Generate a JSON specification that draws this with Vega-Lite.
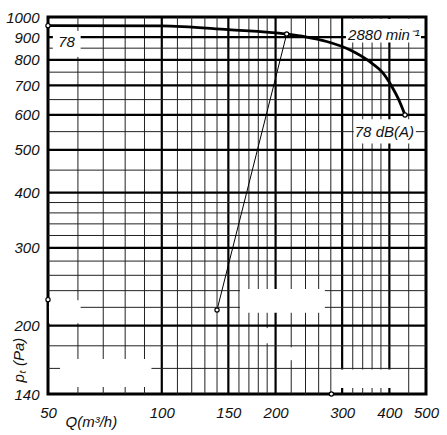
{
  "$schema": "https://vega.github.io/schema/vega-lite/v6.json",
  "width": 378,
  "height": 377,
  "autosize": {"type": "none"},
  "padding": {"left": 48, "top": 17, "right": 21, "bottom": 41},
  "background": "white",
  "config": {
    "view": {"stroke": "black", "strokeWidth": 3},
    "font": "Liberation Sans, Arial, sans-serif"
  },
  "datasets": {
    "vthin": [
      {"q": 60}, {"q": 70}, {"q": 80}, {"q": 90},
      {"q": 110}, {"q": 120}, {"q": 130}, {"q": 140},
      {"q": 160}, {"q": 170}, {"q": 180}, {"q": 190},
      {"q": 220}, {"q": 240}, {"q": 260}, {"q": 280},
      {"q": 320}, {"q": 340}, {"q": 360}, {"q": 380},
      {"q": 450}
    ],
    "vthick": [{"q": 100}, {"q": 150}, {"q": 200}, {"q": 300}, {"q": 400}],
    "hthin": [
      {"p": 160}, {"p": 180}, {"p": 220}, {"p": 240}, {"p": 260}, {"p": 280},
      {"p": 320}, {"p": 340}, {"p": 360}, {"p": 380}, {"p": 450}, {"p": 550},
      {"p": 650}, {"p": 750}, {"p": 850}
    ],
    "hthick": [
      {"p": 200}, {"p": 300}, {"p": 400}, {"p": 500},
      {"p": 600}, {"p": 700}, {"p": 800}, {"p": 900}
    ],
    "boxes": [
      {"q": 51.5, "q2": 61, "p": 812, "p2": 930},
      {"q": 307, "q2": 485, "p": 875, "p2": 990},
      {"q": 322, "q2": 470, "p": 517, "p2": 587},
      {"q": 50.3, "q2": 61, "p": 202.6, "p2": 228.4},
      {"q": 53.8, "q2": 93.9, "p": 145.2, "p2": 168},
      {"q": 161, "q2": 270, "p": 214, "p2": 242},
      {"q": 284, "q2": 427, "p": 144.4, "p2": 159},
      {"q": 184, "q2": 195.7, "p": 182.4, "p2": 197.4},
      {"q": 215.7, "q2": 232, "p": 167, "p2": 178.6}
    ],
    "curve": [
      {"q": 50, "p": 956}, {"q": 100, "p": 955}, {"q": 150, "p": 936},
      {"q": 214, "p": 915}, {"q": 240, "p": 902}, {"q": 273, "p": 880},
      {"q": 315, "p": 842}, {"q": 355, "p": 792}, {"q": 385, "p": 746},
      {"q": 406, "p": 696}, {"q": 422, "p": 654}, {"q": 440, "p": 600}
    ],
    "opline": [{"q": 140, "p": 217}, {"q": 214, "p": 915}],
    "pts": [
      {"q": 50, "p": 956}, {"q": 214, "p": 915}, {"q": 440, "p": 600},
      {"q": 140, "p": 217}, {"q": 50, "p": 229}, {"q": 281, "p": 140}
    ],
    "notes": [
      {"q": 56, "p": 879, "label": "78"},
      {"q": 387, "p": 910, "label": "2880 min⁻¹"},
      {"q": 388, "p": 550, "label": "78 dB(A)"}
    ]
  },
  "layer": [
    {
      "data": {"name": "vthin"},
      "mark": {"type": "rule", "color": "#222", "strokeWidth": 1},
      "encoding": {
        "x": {
          "field": "q",
          "type": "quantitative",
          "scale": {"type": "log", "domain": [50, 500], "nice": false},
          "axis": {
            "values": [50, 100, 150, 200, 300, 400, 500],
            "format": "d",
            "grid": false,
            "ticks": false,
            "domain": false,
            "labelFlush": false,
            "labelPadding": 11,
            "labelFontSize": 15,
            "labelFontStyle": "italic",
            "labelColor": "#111",
            "title": "Q(m³/h)",
            "titleFontSize": 15,
            "titleFontStyle": "italic",
            "titleFontWeight": "normal",
            "titleColor": "#111",
            "titleAlign": "left",
            "titleBaseline": "alphabetic",
            "titleX": 17,
            "titleY": 32
          }
        }
      }
    },
    {
      "data": {"name": "vthick"},
      "mark": {"type": "rule", "color": "black", "strokeWidth": 2.2},
      "encoding": {"x": {"field": "q", "type": "quantitative"}}
    },
    {
      "data": {"name": "hthin"},
      "mark": {"type": "rule", "color": "#222", "strokeWidth": 1},
      "encoding": {
        "y": {
          "field": "p",
          "type": "quantitative",
          "scale": {"type": "log", "domain": [140, 1000], "nice": false},
          "axis": {
            "values": [140, 200, 300, 400, 500, 600, 700, 800, 900, 1000],
            "format": "d",
            "grid": false,
            "ticks": false,
            "domain": false,
            "labelPadding": 9,
            "labelFontSize": 15,
            "labelFontStyle": "italic",
            "labelColor": "#111",
            "title": "pₜ (Pa)",
            "titleFontSize": 15,
            "titleFontStyle": "italic",
            "titleFontWeight": "normal",
            "titleColor": "#111",
            "titleAngle": 270,
            "titleAlign": "left",
            "titleBaseline": "alphabetic",
            "titleX": -25,
            "titleY": 365
          }
        }
      }
    },
    {
      "data": {"name": "hthick"},
      "mark": {"type": "rule", "color": "black", "strokeWidth": 2.2},
      "encoding": {"y": {"field": "p", "type": "quantitative"}}
    },
    {
      "data": {"name": "boxes"},
      "mark": {"type": "rect", "color": "white"},
      "encoding": {
        "x": {"field": "q", "type": "quantitative"},
        "x2": {"field": "q2"},
        "y": {"field": "p", "type": "quantitative"},
        "y2": {"field": "p2"}
      }
    },
    {
      "data": {"name": "opline"},
      "mark": {"type": "line", "color": "black", "strokeWidth": 1},
      "encoding": {
        "x": {"field": "q", "type": "quantitative"},
        "y": {"field": "p", "type": "quantitative"}
      }
    },
    {
      "data": {"name": "curve"},
      "mark": {"type": "line", "color": "black", "strokeWidth": 2.8, "interpolate": "monotone"},
      "encoding": {
        "x": {"field": "q", "type": "quantitative"},
        "y": {"field": "p", "type": "quantitative"}
      }
    },
    {
      "data": {"name": "pts"},
      "mark": {"type": "point", "filled": true, "fill": "white", "stroke": "black", "strokeWidth": 1.2, "size": 18, "opacity": 1},
      "encoding": {
        "x": {"field": "q", "type": "quantitative"},
        "y": {"field": "p", "type": "quantitative"}
      }
    },
    {
      "data": {"name": "notes"},
      "mark": {"type": "text", "fontSize": 15, "fontStyle": "italic", "color": "#111", "align": "center", "baseline": "middle"},
      "encoding": {
        "x": {"field": "q", "type": "quantitative"},
        "y": {"field": "p", "type": "quantitative"},
        "text": {"field": "label"}
      }
    }
  ]
}
